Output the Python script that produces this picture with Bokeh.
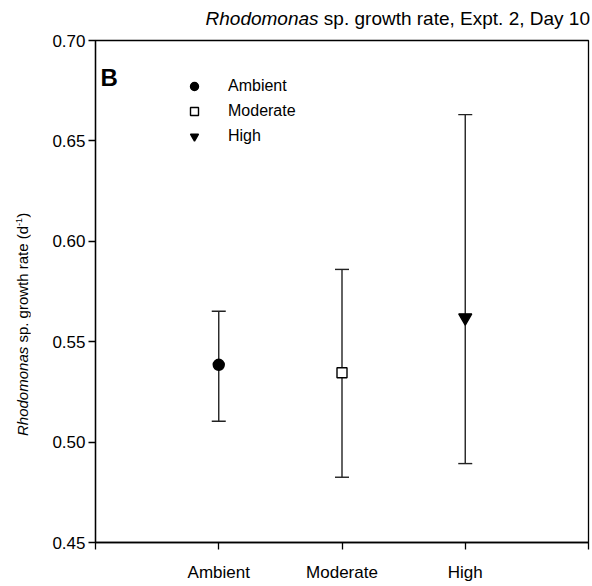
from bokeh.plotting import figure
from bokeh.layouts import row, column
from bokeh.models import (ColumnDataSource, Whisker, TeeHead, FixedTicker, Label,
                          Legend, LegendItem, Range1d, Div)
from bokeh.embed import file_html
from bokeh.resources import INLINE

# ---- data ----
categories = ["Ambient", "Moderate", "High"]
positions = [1, 2, 3]
means = [0.5385, 0.5345, 0.562]
upper = [0.5652, 0.5860, 0.6631]
lower = [0.5104, 0.4825, 0.4893]
y_ticks = [0.45, 0.50, 0.55, 0.60, 0.65, 0.70]
x_ticks = [0, 1, 2, 3, 4]
markers = ["circle", "square", "inverted_triangle"]
fills = ["black", "white", "black"]
sizes = [11, 10, 13]

FONT = "Liberation Sans"
W, H = 592, 586
YL_W = 30          # width of strip holding the y-axis title
TT_H = 30          # height of strip holding the chart title
L, R, T, B = 95, 4, 40, 44
X0, X1, Y0, Y1 = 0, 4, 0.45, 0.70
fw, fh = W - L - R, H - T - B


def dx(px):  # page px -> data x
    return X0 + (px - L) / fw * (X1 - X0)


def dy(py):  # page px -> data y
    return Y1 - (py - T) / fh * (Y1 - Y0)


# ---- main plot ----
p = figure(width=W - YL_W, height=H - TT_H, output_backend="svg", toolbar_location=None,
           x_range=Range1d(X0, X1), y_range=Range1d(Y0, Y1),
           min_border_left=L - YL_W, min_border_right=R,
           min_border_top=T - TT_H, min_border_bottom=B)
p.xgrid.visible = False
p.ygrid.visible = False
p.outline_line_color = "black"
p.outline_line_width = 1.3
p.background_fill_color = "white"
p.border_fill_color = "white"

for ax in (p.xaxis[0], p.yaxis[0]):
    ax.axis_line_color = "black"
    ax.axis_line_width = 1.3
    ax.major_tick_line_color = "black"
    ax.major_tick_line_width = 1.3
    ax.major_tick_out = 7
    ax.major_tick_in = 0
    ax.minor_tick_line_color = None
    ax.major_label_text_font = FONT
    ax.major_label_text_font_size = "17px"
    ax.major_label_text_color = "black"

p.yaxis.ticker = FixedTicker(ticks=y_ticks)
p.yaxis.major_label_overrides = {t: f"{t:.2f}" for t in y_ticks}
p.yaxis.major_label_standoff = 3
p.xaxis.ticker = FixedTicker(ticks=x_ticks)
overrides = {0: "", 4: ""}
overrides.update({pos: c for pos, c in zip(positions, categories)})
p.xaxis.major_label_overrides = overrides
p.xaxis.major_label_standoff = 13

# error bars
src = ColumnDataSource(dict(x=positions, m=means, up=upper, lo=lower))
wh = Whisker(base="x", upper="up", lower="lo", source=src,
             line_color="#222222", line_width=1.4,
             upper_head=TeeHead(size=14, line_color="#222222", line_width=1.4),
             lower_head=TeeHead(size=14, line_color="#222222", line_width=1.4))
p.add_layout(wh)

items = []
for i, c in enumerate(categories):
    s = ColumnDataSource(dict(x=[positions[i]], y=[means[i]]))
    r = p.scatter("x", "y", source=s, marker=markers[i], size=sizes[i],
                  fill_color=fills[i], line_color="black", line_width=1.4)
    items.append(LegendItem(label=c, renderers=[r]))

leg = Legend(items=items, location=(89, 396), border_line_color=None,
             background_fill_alpha=0, glyph_width=20, glyph_height=20,
             label_height=20, spacing=5, padding=0, margin=0,
             label_standoff=24, label_text_font=FONT, label_text_font_size="16px",
             label_text_color="black")
p.add_layout(leg)

# panel letter
p.add_layout(Label(x=dx(100), y=dy(77), text="B", text_font=FONT, text_font_size="24px",
                   text_font_style="bold", text_color="black", text_baseline="alphabetic"))

# ---- title strip (HTML so the genus can be italic) ----
title_html = (
    f'<div style="width:{W - YL_W - 2}px; text-align:right; white-space:nowrap; '
    f"font-family:'{FONT}', Arial, sans-serif; font-size:19px; line-height:20px; "
    f'color:black; margin:0; padding-top:9px;">'
    '<i>Rhodomonas</i> sp. growth rate, Expt. 2, Day 10</div>'
)
tdiv = Div(text=title_html, width=W - YL_W, height=TT_H,
           styles={"margin": "0", "padding": "0", "overflow": "visible"})

# ---- y-axis title strip (rotated HTML) ----
ylab_html = (
    f'<div style="transform-origin:0 0; transform:translate(10px, 436px) rotate(-90deg); '
    f"white-space:nowrap; font-family:'{FONT}', Arial, sans-serif; font-size:15px; "
    f'line-height:18px; color:black; margin:0; padding:0; width:max-content;">'
    '<i>Rhodomonas</i> sp. growth rate (d<sup style="font-size:9px;">-1</sup>)</div>'
)
ydiv = Div(text=ylab_html, width=YL_W, height=H,
           styles={"margin": "0", "padding": "0", "overflow": "visible"})

layout = row(ydiv, column(tdiv, p, spacing=0), spacing=0)
open("out.html", "w").write(file_html(layout, INLINE))
